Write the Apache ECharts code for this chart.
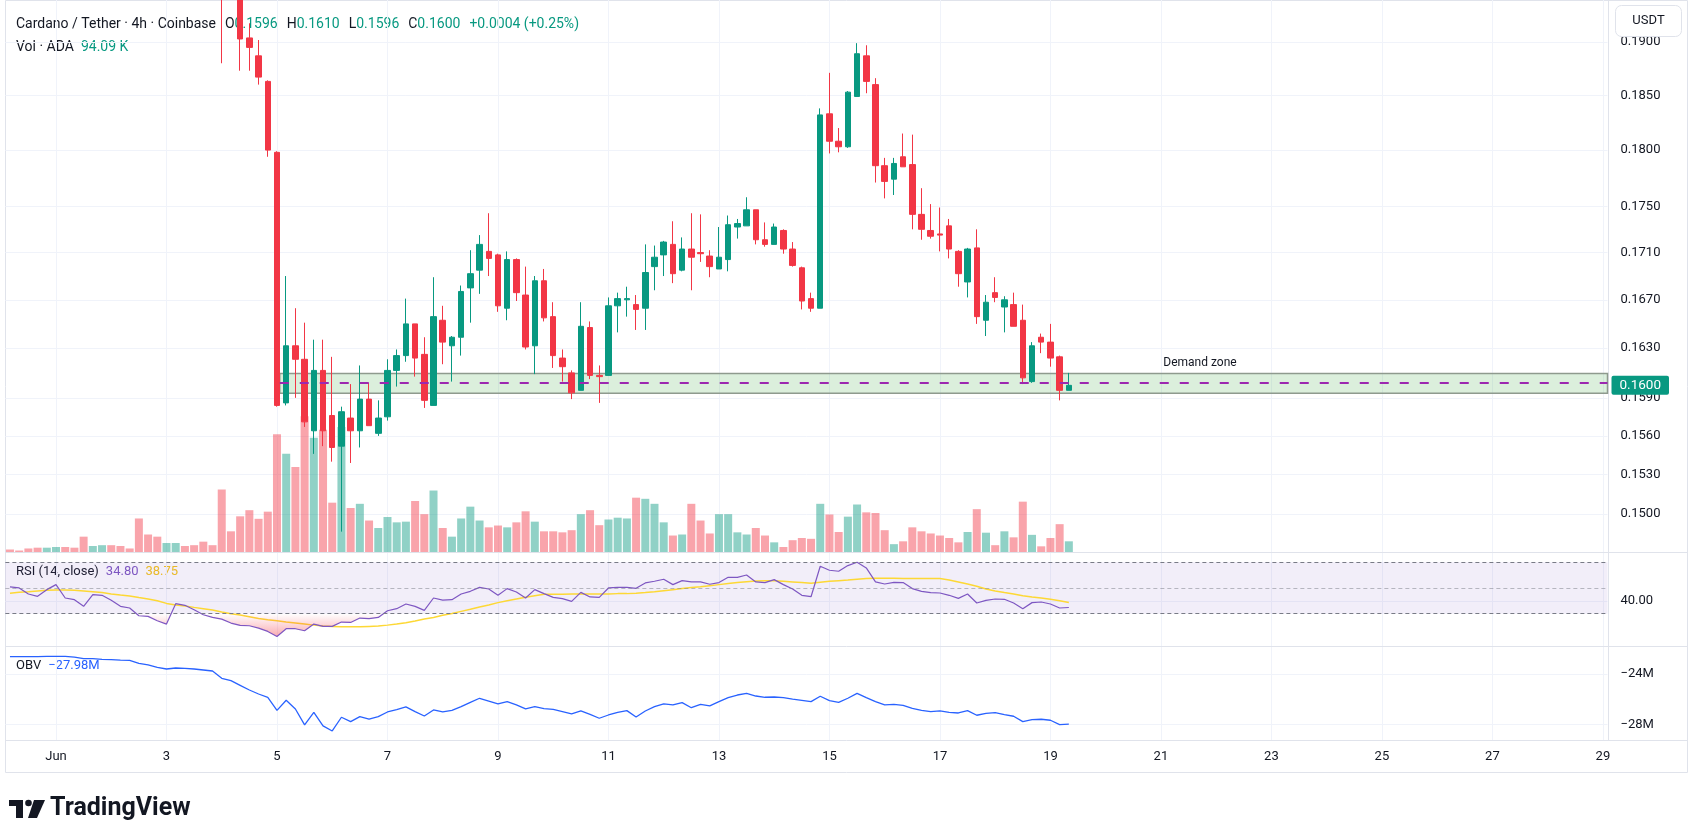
<!DOCTYPE html>
<html>
<head>
<meta charset="utf-8">
<title>Cardano / Tether 4h</title>
<script src="https://cdn.jsdelivr.net/npm/echarts@6/dist/echarts.min.js"></script>
<style>
  html, body { margin: 0; padding: 0; background: #fff; }
  #chart { width: 1700px; height: 827px; }
</style>
</head>
<body>
<div id="chart"></div>
<script>
// 4h candles; slot 0 = Jun 1 00:00, first candle is May 31 04:00 (slot -5)
const firstSlot = -5;
const lastSlot = 168; // Jun 29 00:00, right edge of the time scale

const opens = [
  0.2125, 0.2120, 0.2117, 0.2110, 0.2104, 0.2112, 0.2118, 0.2110, 0.2105, 0.2085,
  0.2090, 0.2096, 0.2090, 0.2084, 0.2080, 0.2040, 0.2025, 0.2010, 0.2022, 0.2030,
  0.2024, 0.2018, 0.2006, 0.2000, 0.1975, 0.1962, 0.1904, 0.1887, 0.1863, 0.1798,
  0.1586, 0.1632, 0.1621, 0.1564, 0.1612, 0.1576, 0.1552, 0.1574, 0.1564, 0.1589,
  0.1562, 0.1575, 0.1612, 0.1624, 0.1650, 0.1625, 0.1584, 0.1653, 0.1632, 0.1639,
  0.1680, 0.1695, 0.1711, 0.1708, 0.1663, 0.1704, 0.1674, 0.1632, 0.1686, 0.1656,
  0.1622, 0.1610, 0.1596, 0.1647, 0.1608, 0.1608, 0.1665, 0.1670, 0.1666, 0.1663,
  0.1698, 0.1708, 0.1717, 0.1695, 0.1713, 0.1710, 0.1707, 0.1696, 0.1704, 0.1732,
  0.1733, 0.1747, 0.1721, 0.1717, 0.1729, 0.1713, 0.1697, 0.1671, 0.1663, 0.1833,
  0.1808, 0.1803, 0.1849, 0.1887, 0.1860, 0.1786, 0.1774, 0.1794, 0.1787, 0.1743,
  0.1729, 0.1726, 0.1733, 0.1711, 0.1685, 0.1714, 0.1653, 0.1676, 0.1664, 0.1666,
  0.1653, 0.1603, 0.1639, 0.1635, 0.1623, 0.1596
];
const highs = [
  0.2130, 0.2126, 0.2124, 0.2116, 0.2118, 0.2122, 0.2121, 0.2114, 0.2110, 0.2095,
  0.2100, 0.2101, 0.2094, 0.2088, 0.2085, 0.2048, 0.2032, 0.2028, 0.2036, 0.2034,
  0.2028, 0.2022, 0.2010, 0.2004, 0.1982, 0.1966, 0.1918, 0.1902, 0.1864, 0.1799,
  0.1690, 0.1663, 0.1651, 0.1637, 0.1637, 0.1623, 0.1583, 0.1601, 0.1616, 0.1602,
  0.1588, 0.1621, 0.1629, 0.1671, 0.1650, 0.1639, 0.1689, 0.1665, 0.1640, 0.1682,
  0.1712, 0.1725, 0.1744, 0.1709, 0.1711, 0.1705, 0.1698, 0.1690, 0.1696, 0.1668,
  0.1629, 0.1612, 0.1668, 0.1652, 0.1616, 0.1672, 0.1676, 0.1681, 0.1674, 0.1717,
  0.1716, 0.1720, 0.1737, 0.1723, 0.1744, 0.1743, 0.1712, 0.1732, 0.1742, 0.1739,
  0.1758, 0.1747, 0.1736, 0.1735, 0.1730, 0.1719, 0.1698, 0.1676, 0.1838, 0.1871,
  0.1820, 0.1854, 0.1899, 0.1897, 0.1866, 0.1793, 0.1793, 0.1815, 0.1814, 0.1766,
  0.1752, 0.1749, 0.1739, 0.1712, 0.1714, 0.1730, 0.1674, 0.1689, 0.1673, 0.1676,
  0.1666, 0.1635, 0.1642, 0.1650, 0.1624, 0.1610
];
const lows = [
  0.2112, 0.2110, 0.2104, 0.2098, 0.2100, 0.2106, 0.2104, 0.2100, 0.2078, 0.2080,
  0.2085, 0.2085, 0.2079, 0.2076, 0.2030, 0.2015, 0.2002, 0.2005, 0.2016, 0.2018,
  0.2012, 0.1998, 0.1994, 0.1880, 0.1950, 0.1873, 0.1873, 0.1860, 0.1794, 0.1583,
  0.1584, 0.1590, 0.1567, 0.1546, 0.1552, 0.1540, 0.1487, 0.1539, 0.1551, 0.1568,
  0.1560, 0.1572, 0.1599, 0.1619, 0.1607, 0.1582, 0.1584, 0.1617, 0.1603, 0.1624,
  0.1651, 0.1675, 0.1690, 0.1660, 0.1653, 0.1669, 0.1629, 0.1609, 0.1652, 0.1614,
  0.1603, 0.1589, 0.1596, 0.1605, 0.1586, 0.1608, 0.1643, 0.1656, 0.1645, 0.1645,
  0.1678, 0.1690, 0.1684, 0.1694, 0.1678, 0.1702, 0.1689, 0.1696, 0.1694, 0.1722,
  0.1733, 0.1717, 0.1715, 0.1717, 0.1709, 0.1698, 0.1662, 0.1660, 0.1663, 0.1797,
  0.1798, 0.1802, 0.1849, 0.1852, 0.1771, 0.1757, 0.1760, 0.1785, 0.1730, 0.1721,
  0.1722, 0.1711, 0.1705, 0.1681, 0.1672, 0.1650, 0.1640, 0.1668, 0.1643, 0.1648,
  0.1601, 0.1602, 0.1626, 0.1615, 0.1588, 0.1596
];
const closes = [
  0.2120, 0.2117, 0.2110, 0.2104, 0.2112, 0.2118, 0.2110, 0.2105, 0.2085, 0.2090,
  0.2096, 0.2090, 0.2084, 0.2080, 0.2040, 0.2025, 0.2010, 0.2022, 0.2030, 0.2024,
  0.2018, 0.2006, 0.2000, 0.1975, 0.1962, 0.1903, 0.1895, 0.1867, 0.1800, 0.1584,
  0.1632, 0.1621, 0.1571, 0.1612, 0.1564, 0.1551, 0.1579, 0.1564, 0.1589, 0.1568,
  0.1574, 0.1612, 0.1624, 0.1650, 0.1622, 0.1588, 0.1656, 0.1635, 0.1639, 0.1677,
  0.1692, 0.1717, 0.1705, 0.1665, 0.1704, 0.1676, 0.1631, 0.1686, 0.1655, 0.1624,
  0.1615, 0.1594, 0.1648, 0.1608, 0.1607, 0.1665, 0.1671, 0.1671, 0.1662, 0.1693,
  0.1706, 0.1719, 0.1692, 0.1713, 0.1706, 0.1709, 0.1698, 0.1706, 0.1734, 0.1735,
  0.1747, 0.1721, 0.1717, 0.1732, 0.1713, 0.1699, 0.1669, 0.1663, 0.1832, 0.1808,
  0.1803, 0.1853, 0.1889, 0.1863, 0.1786, 0.1772, 0.1788, 0.1785, 0.1743, 0.1730,
  0.1724, 0.1725, 0.1713, 0.1692, 0.1713, 0.1656, 0.1668, 0.1672, 0.1670, 0.1648,
  0.1606, 0.1632, 0.1635, 0.1622, 0.1596, 0.1600
];
// volume, thousands of ADA
const volumes = [
  22, 13, 31, 38, 38, 44, 44, 38, 135, 53,
  60, 60, 53, 31, 295, 154, 135, 79, 79, 53,
  60, 91, 60, 550, 182, 314, 368, 292, 355, 1037,
  864, 748, 1194, 1006, 1075, 434, 1100, 387, 424, 277,
  211, 308, 261, 267, 449, 333, 541, 211, 135, 295,
  399, 277, 217, 233, 217, 261, 358, 267, 182, 182,
  173, 192, 333, 368, 236, 286, 302, 295, 478, 468,
  424, 261, 145, 154, 424, 277, 163, 333, 333, 173,
  154, 211, 145, 85, 44, 104, 123, 116, 424, 330,
  176, 311, 418, 349, 343, 192, 69, 94, 217, 182,
  163, 145, 123, 85, 176, 377, 170, 60, 182, 129,
  443, 151, 50, 123, 245, 94.09
];
const rsi = [
  50.8, 50.0, 45.3, 43.5, 48.7, 52.6, 42.2, 40.9, 35.7, 44.8,
  44.3, 40.4, 35.7, 34.4, 28.4, 27.9, 24.5, 21.9, 37.8, 36.5,
  33.1, 29.2, 27.1, 25.8, 22.7, 20.9, 20.6, 18.8, 16.2, 12.3,
  18.3, 18.3, 16.7, 21.9, 20.1, 20.1, 23.5, 23.2, 26.6, 26.1,
  27.1, 32.3, 33.9, 37.5, 35.7, 32.6, 42.2, 40.6, 40.9, 45.3,
  47.4, 50.5, 49.2, 44.3, 49.5, 46.9, 42.2, 48.7, 45.6, 42.7,
  41.7, 39.6, 46.6, 43.0, 42.7, 50.0, 50.5, 50.5, 49.7, 53.9,
  55.2, 56.8, 52.6, 55.7, 54.7, 54.7, 52.9, 54.2, 58.3, 58.3,
  60.1, 54.7, 54.2, 56.5, 52.6, 49.2, 44.3, 43.2, 66.9, 63.8,
  63.0, 67.4, 70.0, 65.6, 54.7, 53.1, 54.4, 54.2, 49.5, 47.4,
  46.4, 46.1, 44.3, 41.9, 45.3, 38.3, 40.4, 41.4, 41.2, 38.3,
  33.9, 38.6, 39.1, 37.5, 34.4, 34.80
];
const rsiMa = [
  45.8, 46.6, 47.1, 47.7, 48.2, 48.4, 48.4, 48.2, 47.7, 47.1,
  46.4, 45.3, 44.5, 43.8, 42.5, 41.4, 40.1, 38.0, 36.7, 36.0,
  34.9, 33.9, 32.8, 31.3, 30.0, 28.9, 27.6, 26.3, 25.3, 24.5,
  23.5, 22.7, 21.9, 21.1, 20.4, 20.1, 19.8, 19.8, 19.8, 20.1,
  20.4, 21.1, 21.9, 23.0, 24.3, 25.8, 27.1, 28.7, 30.2, 31.8,
  33.4, 35.2, 36.7, 38.6, 40.1, 41.4, 42.7, 44.0, 45.1, 45.1,
  45.1, 45.3, 45.3, 45.3, 45.3, 45.3, 45.6, 45.6, 45.8, 46.4,
  47.1, 47.9, 48.7, 49.5, 50.3, 51.0, 51.8, 52.6, 53.4, 54.2,
  54.9, 55.5, 55.7, 55.7, 55.2, 54.7, 54.2, 53.6, 54.4, 55.2,
  55.7, 56.2, 56.8, 57.3, 57.5, 57.5, 57.5, 57.3, 57.3, 57.3,
  57.3, 57.3, 56.2, 54.7, 53.1, 51.3, 49.2, 47.7, 46.4, 45.3,
  44.0, 43.0, 42.2, 41.2, 40.1, 38.75
];
// on balance volume, millions
const obv = [
  -22.62, -22.62, -22.62, -22.62, -22.60, -22.60, -22.60, -22.65, -22.78, -22.78,
  -22.83, -22.86, -22.89, -22.91, -23.15, -23.28, -23.47, -23.60, -23.52, -23.55,
  -23.60, -23.68, -23.76, -24.34, -24.53, -24.90, -25.27, -25.59, -25.85, -26.89,
  -26.09, -26.78, -28.05, -27.05, -28.13, -28.53, -27.44, -27.79, -27.39, -27.58,
  -27.39, -27.02, -26.83, -26.62, -26.99, -27.34, -26.86, -27.02, -26.89, -26.60,
  -26.25, -25.93, -26.15, -26.38, -26.20, -26.46, -26.78, -26.60, -26.75, -26.81,
  -26.99, -27.18, -26.94, -27.21, -27.52, -27.26, -27.05, -26.91, -27.42, -26.94,
  -26.60, -26.38, -26.46, -26.28, -26.68, -26.41, -26.54, -26.20, -25.88, -25.67,
  -25.54, -25.75, -25.85, -25.83, -25.88, -25.99, -26.09, -26.20, -25.77, -26.12,
  -26.25, -25.93, -25.54, -25.88, -26.20, -26.46, -26.41, -26.49, -26.73, -26.89,
  -26.99, -26.94, -27.05, -27.10, -26.91, -27.28, -27.13, -27.07, -27.23, -27.36,
  -27.79, -27.63, -27.60, -27.68, -28.02, -27.98
];

const priceTicks = [0.1500, 0.1530, 0.1560, 0.1590, 0.1630, 0.1670, 0.1710, 0.1750, 0.1800, 0.1850, 0.1900];
const dayLabels = ['Jun', '3', '5', '7', '9', '11', '13', '15', '17', '19', '21', '23', '25', '27', '29'];
const rsiTicks = [40];
const obvTicks = [-28, -24];

// demand zone drawing
const zoneTop = 0.16096;
const zoneBottom = 0.15937;
const zoneMid = 0.1602;
const zoneStartSlot = 24.3;

const UP = '#089981';
const DOWN = '#f23645';
const TEXT = '#131722';
const GRID = '#f0f3fa';
const BORDER = '#e0e3eb';
const FONT = 'Roboto, "Noto Sans", sans-serif';

const dayTicks = dayLabels.map((_, i) => i * 12);
const candles = opens.map((o, i) => [firstSlot + i, o, closes[i], lows[i], highs[i]]);
const volData = volumes.map((v, i) => ({
  value: [firstSlot + i, v],
  itemStyle: { color: closes[i] >= opens[i] ? 'rgba(8,153,129,0.45)' : 'rgba(242,54,69,0.45)' }
}));
const rsiData = rsi.map((v, i) => [firstSlot + i, v]);
const rsiMaData = rsiMa.map((v, i) => [firstSlot + i, v]);
const obvData = obv.map((v, i) => [firstSlot + i, v]);

const n = closes.length - 1;
const lastUp = closes[n] >= opens[n];
const chg = closes[n] - closes[n - 1];
const chgPct = chg / closes[n - 1] * 100;
const sign = chg >= 0 ? '+' : '−';

const paneLeft = 5.36;
const paneRight = 92.5;

function xAxisFor(gridIndex, withLabels) {
  return {
    type: 'value', gridIndex: gridIndex,
    min: firstSlot - 0.5, max: lastSlot + 0.5,
    axisLine: { show: false },
    axisTick: { show: false, customValues: dayTicks },
    axisLabel: withLabels ? {
      show: true, customValues: dayTicks, margin: 10,
      color: TEXT, fontSize: 13, fontFamily: FONT,
      formatter: v => dayLabels[Math.round(v / 12)]
    } : { show: false },
    splitLine: { show: true, lineStyle: { color: GRID, width: 1 } }
  };
}

const chart = echarts.init(document.getElementById('chart'));

chart.setOption({
  animation: false,
  backgroundColor: '#ffffff',
  textStyle: { fontFamily: FONT },
  grid: [
    { left: paneLeft, right: paneRight, top: 0, height: 552 },
    { left: paneLeft, right: paneRight, top: 352, height: 200 },
    { left: paneLeft, right: paneRight, top: 553, height: 93 },
    { left: paneLeft, right: paneRight, top: 647, height: 93 }
  ],
  xAxis: [xAxisFor(0, false), xAxisFor(1, false), xAxisFor(2, false), xAxisFor(3, true)],
  yAxis: [
    {
      type: 'log', gridIndex: 0, position: 'right',
      min: 0.14719, max: 0.19405,
      axisLine: { show: false },
      axisTick: { show: false, customValues: priceTicks },
      axisLabel: {
        customValues: priceTicks, margin: 13, color: TEXT, fontSize: 13, fontFamily: FONT,
        formatter: v => v.toFixed(4)
      },
      splitLine: { show: true, lineStyle: { color: GRID } }
    },
    { type: 'value', gridIndex: 1, min: 0, max: 1760, show: false },
    {
      type: 'value', gridIndex: 2, position: 'right', min: 4.86, max: 77.2,
      axisLine: { show: false },
      axisTick: { show: false, customValues: rsiTicks },
      axisLabel: {
        customValues: rsiTicks, margin: 13, color: TEXT, fontSize: 13, fontFamily: FONT,
        formatter: v => v.toFixed(2)
      },
      splitLine: { show: true, lineStyle: { color: GRID } }
    },
    {
      type: 'value', gridIndex: 3, position: 'right', min: -29.25, max: -21.85,
      axisLine: { show: false },
      axisTick: { show: false, customValues: obvTicks },
      axisLabel: {
        customValues: obvTicks, margin: 13, color: TEXT, fontSize: 13, fontFamily: FONT,
        formatter: v => (v < 0 ? '−' : '') + Math.abs(v) + 'M'
      },
      splitLine: { show: true, lineStyle: { color: GRID } }
    }
  ],
  series: [
    {
      name: 'Vol', type: 'bar', xAxisIndex: 1, yAxisIndex: 1,
      barWidth: 8, z: 1, data: volData
    },
    {
      name: 'ADAUSDT', type: 'candlestick', xAxisIndex: 0, yAxisIndex: 0,
      barWidth: 6, z: 3,
      itemStyle: { color: UP, color0: DOWN, borderColor: UP, borderColor0: DOWN, borderWidth: 1 },
      data: candles,
      markArea: {
        silent: true, z: 1,
        itemStyle: { color: 'rgba(76,175,80,0.2)', borderColor: '#8e9a8e', borderWidth: 1.5 },
        data: [[{ xAxis: zoneStartSlot, yAxis: zoneTop }, { xAxis: lastSlot + 0.5, yAxis: zoneBottom }]]
      },
      markLine: {
        silent: true, symbol: 'none', animation: false,
        data: [
          [
            { xAxis: zoneStartSlot, yAxis: zoneMid, lineStyle: { color: '#9c27b0', width: 2, type: [9, 11] }, label: { show: false } },
            { xAxis: lastSlot + 0.5, yAxis: zoneMid }
          ]
        ]
      }
    },
    {
      // last price badge on the price scale
      name: 'last', type: 'line', xAxisIndex: 0, yAxisIndex: 0,
      data: [], silent: true,
      markLine: {
        silent: true, symbol: 'none', animation: false,
        lineStyle: { color: 'rgba(0,0,0,0)', width: 1 },
        data: [{
          yAxis: closes[n],
          label: {
            show: true, position: 'end', distance: 4,
            formatter: closes[n].toFixed(4),
            backgroundColor: lastUp ? UP : DOWN, color: '#fff',
            fontSize: 13.5, fontFamily: FONT, padding: [3, 8, 2, 8], borderRadius: 2
          }
        }]
      }
    },
    {
      name: 'RSI', type: 'line', xAxisIndex: 2, yAxisIndex: 2,
      data: rsiData, symbol: 'none', z: 3,
      lineStyle: { color: '#7e57c2', width: 1.2 },
      areaStyle: {
        origin: 30,
        color: new echarts.graphic.LinearGradient(0, 613.7, 0, 650, [
          { offset: 0, color: 'rgba(242,54,69,0)' },
          { offset: 1, color: 'rgba(242,54,69,0.95)' }
        ], true)
      },
      markArea: {
        silent: true,
        itemStyle: { color: 'rgba(126,87,194,0.1)' },
        data: [[{ yAxis: 70 }, { yAxis: 30 }]]
      },
      markLine: {
        silent: true, symbol: 'none', label: { show: false },
        lineStyle: { color: '#787b86', width: 1, type: [4, 3] },
        data: [
          { yAxis: 70 },
          { yAxis: 50, lineStyle: { opacity: 0.5 } },
          { yAxis: 30 }
        ]
      }
    },
    {
      name: 'RSI MA', type: 'line', xAxisIndex: 2, yAxisIndex: 2,
      data: rsiMaData, symbol: 'none', z: 2,
      lineStyle: { color: '#fdd835', width: 1.5 }
    },
    {
      name: 'OBV', type: 'line', xAxisIndex: 3, yAxisIndex: 3,
      data: obvData, symbol: 'none',
      lineStyle: { color: '#2962ff', width: 1.3 }
    }
  ],
  graphic: [
    { type: 'rect', silent: true, z: -1, shape: { x: 5.5, y: 0.5, width: 1682, height: 772 }, style: { fill: 'none', stroke: BORDER, lineWidth: 1 } },
    { type: 'line', silent: true, shape: { x1: 5.5, y1: 552.5, x2: 1687.5, y2: 552.5 }, style: { stroke: BORDER, lineWidth: 1 } },
    { type: 'line', silent: true, shape: { x1: 5.5, y1: 646.5, x2: 1687.5, y2: 646.5 }, style: { stroke: BORDER, lineWidth: 1 } },
    { type: 'line', silent: true, shape: { x1: 5.5, y1: 740.5, x2: 1687.5, y2: 740.5 }, style: { stroke: BORDER, lineWidth: 1 } },
    { type: 'line', silent: true, shape: { x1: 1608.5, y1: 0, x2: 1608.5, y2: 740.5 }, style: { stroke: BORDER, lineWidth: 1 } },
    {
      type: 'text', silent: true, x: 16, y: 24,
      style: {
        text: '{t|Cardano / Tether · 4h · Coinbase}{g| }{k|O}{v|' + opens[n].toFixed(4) + '}{g| }{k|H}{v|' + highs[n].toFixed(4) +
          '}{g| }{k|L}{v|' + lows[n].toFixed(4) + '}{g| }{k|C}{v|' + closes[n].toFixed(4) + '}{g| }{v|' +
          sign + Math.abs(chg).toFixed(4) + ' (' + sign + Math.abs(chgPct).toFixed(2) + '%)}',
        verticalAlign: 'middle',
        rich: {
          t: { fill: TEXT, fontSize: 14, fontFamily: FONT },
          k: { fill: TEXT, fontSize: 14, fontFamily: FONT },
          v: { fill: lastUp ? UP : DOWN, fontSize: 14, fontFamily: FONT },
          g: { width: 9, fontSize: 14 }
        }
      }
    },
    {
      type: 'text', silent: true, x: 16, y: 47,
      style: {
        text: '{k|Vol · ADA}{g| }{v|' + volumes[n].toFixed(2) + ' K}',
        verticalAlign: 'middle',
        rich: {
          k: { fill: TEXT, fontSize: 14, fontFamily: FONT },
          v: { fill: lastUp ? UP : DOWN, fontSize: 14, fontFamily: FONT },
          g: { width: 7, fontSize: 14 }
        }
      }
    },
    {
      type: 'text', silent: true, x: 16, y: 572,
      style: {
        text: '{k|RSI (14, close)}{g| }{p|' + rsi[n].toFixed(2) + '}{g| }{y|' + rsiMa[n].toFixed(2) + '}',
        verticalAlign: 'middle',
        rich: {
          k: { fill: TEXT, fontSize: 13, fontFamily: FONT },
          p: { fill: '#7e57c2', fontSize: 13, fontFamily: FONT },
          y: { fill: '#f5c518', fontSize: 13, fontFamily: FONT },
          g: { width: 7, fontSize: 13 }
        }
      }
    },
    {
      type: 'text', silent: true, x: 16, y: 666,
      style: {
        text: '{k|OBV}{g| }{b|−' + Math.abs(obv[n]).toFixed(2) + 'M}',
        verticalAlign: 'middle',
        rich: {
          k: { fill: TEXT, fontSize: 13, fontFamily: FONT },
          b: { fill: '#2962ff', fontSize: 13, fontFamily: FONT },
          g: { width: 7, fontSize: 13 }
        }
      }
    },
    {
      type: 'text', silent: true, x: 1200, y: 363,
      style: { text: 'Demand zone', fill: TEXT, fontSize: 12, fontFamily: FONT, align: 'center', verticalAlign: 'middle' }
    },
    {
      type: 'rect', silent: true, z: 10, shape: { x: 1615.5, y: 5.5, width: 66, height: 31, r: 6 },
      style: { fill: '#fff', stroke: BORDER, lineWidth: 1 }
    },
    {
      type: 'text', silent: true, z: 11, x: 1648.5, y: 21,
      style: { text: 'USDT', fill: TEXT, fontSize: 13, fontFamily: FONT, align: 'center', verticalAlign: 'middle' }
    },
    // TradingView logo
    { type: 'rect', silent: true, shape: { x: 9, y: 800, width: 14, height: 6 }, style: { fill: TEXT } },
    { type: 'rect', silent: true, shape: { x: 16, y: 800, width: 7, height: 18 }, style: { fill: TEXT } },
    { type: 'circle', silent: true, shape: { cx: 28.5, cy: 803, r: 3.3 }, style: { fill: TEXT } },
    { type: 'polygon', silent: true, shape: { points: [[34, 800], [45, 800], [37, 818], [28, 818]] }, style: { fill: TEXT } },
    {
      type: 'text', silent: true, x: 50, y: 809,
      style: { text: 'TradingView', fill: TEXT, fontSize: 25, fontWeight: 'bold', fontFamily: FONT, verticalAlign: 'middle' }
    }
  ]
});
</script>
</body>
</html>
